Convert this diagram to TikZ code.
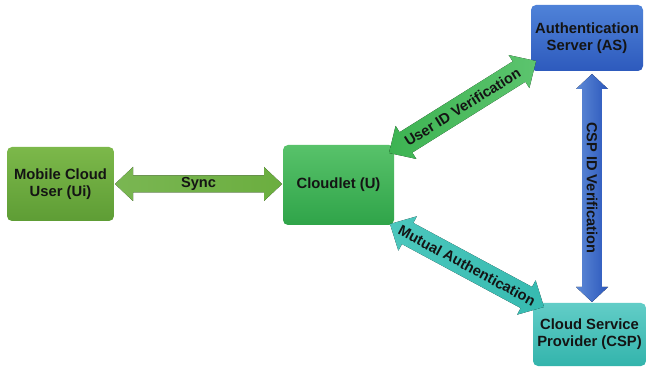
\documentclass[tikz,border=0pt]{standalone}
\usepackage{fontspec}
\setmainfont{Liberation Sans}
\usetikzlibrary{calc}

\definecolor{mcuTop}{HTML}{7CB84A}
\definecolor{mcuBot}{HTML}{5E9D35}
\definecolor{cletTop}{HTML}{58C26A}
\definecolor{cletBot}{HTML}{2FA449}
\definecolor{asTop}{HTML}{4F82D8}
\definecolor{asBot}{HTML}{2D5ABD}
\definecolor{cspTop}{HTML}{62CDC7}
\definecolor{cspBot}{HTML}{33B4AC}
\definecolor{syncCol}{HTML}{6BAE3F}
\definecolor{uidA}{HTML}{3DB352}
\definecolor{uidB}{HTML}{5CC46E}
\definecolor{mutA}{HTML}{4CC7BD}
\definecolor{mutB}{HTML}{36BAB0}
\definecolor{cspaTop}{HTML}{5E8AD6}
\definecolor{cspaBot}{HTML}{2B57BC}

\tikzset{
  box/.style={rounded corners=5pt, inner sep=0pt, align=center,
    font=\fontsize{14.8}{16.8}\selectfont\bfseries, text=black!92},
  lbl/.style={font=\fontsize{14.6}{16.8}\selectfont\bfseries, text=black!92, inner sep=0pt},
}

% double-headed block arrow between two named points:
% #1 start, #2 end, #3 body half width, #4 head half width, #5 head length, #6 fill options
\newcommand\blockarrow[6]{%
  \path (#1); \pgfgetlastxy{\bax}{\bay}%
  \path (#2); \pgfgetlastxy{\bbx}{\bby}%
  \pgfmathsetmacro\bang{atan2(\bby-\bay,\bbx-\bax)}%
  \pgfmathsetmacro\blen{veclen(\bbx-\bax,\bby-\bay)}%
  \begin{scope}[shift={(\bax,\bay)}, rotate=\bang]
    \fill[#6] (0,0) -- (#5,#4) -- (#5,#3) -- (\blen pt-#5,#3) -- (\blen pt-#5,#4)
      -- (\blen pt,0) -- (\blen pt-#5,-#4) -- (\blen pt-#5,-#3) -- (#5,-#3) -- (#5,-#4) -- cycle;
  \end{scope}}

\begin{document}
\begin{tikzpicture}[x=1pt,y=1pt]
  \useasboundingbox[fill=white] (0,0) rectangle (647,369);

  % boxes
  \node[box, minimum width=107pt, minimum height=74pt, top color=mcuTop, bottom color=mcuBot]
    (mcu) at (60.5,185) {Mobile Cloud\\User (Ui)};
  \node[box, minimum width=111pt, minimum height=80pt, top color=cletTop, bottom color=cletBot]
    (clet) at (338.5,184) {Cloudlet (U)};
  \node[box, minimum width=112pt, minimum height=66pt, top color=asTop, bottom color=asBot]
    (as) at (587,331) {Authentication\\Server (AS)};
  \node[box, minimum width=113pt, minimum height=63pt, top color=cspTop, bottom color=cspBot]
    (csp) at (589.5,34.5) {Cloud Service\\Provider (CSP)};

  % arrow end points
  \coordinate (syncA) at (115,185);
  \coordinate (syncB) at (282,185);
  \coordinate (uidA) at (389,216);
  \coordinate (uidB) at (536,308);
  \coordinate (cspA) at (592,295);
  \coordinate (cspB) at (592,67);
  \coordinate (mutA) at (390,145);
  \coordinate (mutB) at (544,62);

  % connectors
  \blockarrow{syncA}{syncB}{8.5pt}{17pt}{18pt}{left color=syncCol!90!white, right color=syncCol}
  \blockarrow{uidA}{uidB}{12pt}{19.5pt}{20pt}{left color=uidA, right color=uidB}
  \blockarrow{cspA}{cspB}{9.8pt}{16pt}{15pt}{left color=cspaTop, right color=cspaBot}
  \blockarrow{mutA}{mutB}{12pt}{19.5pt}{20pt}{left color=mutA, right color=mutB}

  % connector labels
  \path (syncA) -- (syncB) node[lbl, midway] {Sync};
  \path (uidA) -- (uidB) node[lbl, midway, sloped] {User ID Verification};
  \path (cspA) -- (cspB) node[lbl, midway, rotate=-90] {CSP ID Verification};
  \path (mutA) -- (mutB) node[lbl, midway, sloped] {Mutual Authentication};
\end{tikzpicture}
\end{document}
